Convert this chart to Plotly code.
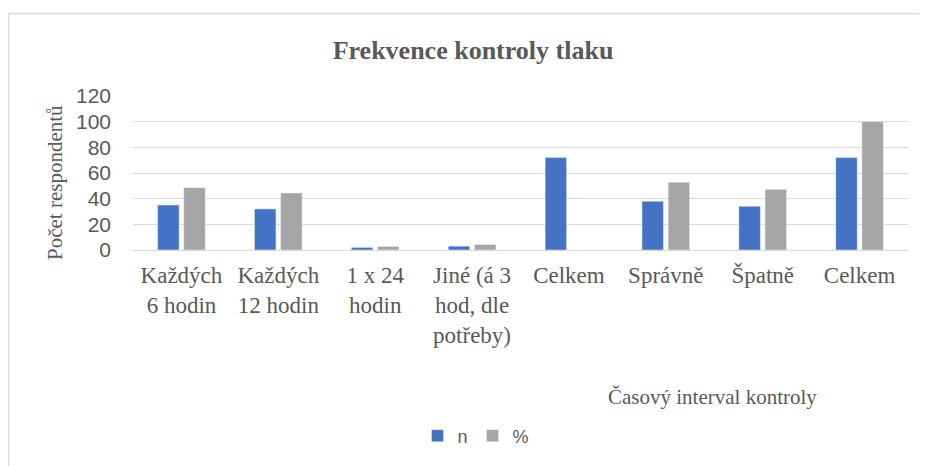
import plotly.graph_objects as go

categories = ["Každých<br>6 hodin", "Každých<br>12 hodin", "1 x 24<br>hodin",
              "Jiné (á 3<br>hod, dle<br>potřeby)", "Celkem", "Správně", "Špatně", "Celkem"]
x_pos = list(range(len(categories)))
n_values = [35, 32, 2, 3, 72, 38, 34, 72]
pct_values = [48.6, 44.4, 2.8, 4.2, None, 52.8, 47.2, 100]
y_ticks = [0, 20, 40, 60, 80, 100, 120]

TXT = "#595959"
SERIF = "Liberation Serif, Times New Roman, serif"
SANS = "Liberation Sans, Arial, sans-serif"

# the page body has an 8px margin, so the figure is laid out in page pixels minus 8
OFF = 8
W, H = 927 - OFF, 466 - OFF
L, R, T = 133 - OFF, 19, 96 - OFF
B = H - (250 - OFF)
pw, ph = W - L - R, H - T - B

def px_x(p):
    return (p - OFF - L) / pw

def px_y(p):
    return (H - B - (p - OFF)) / ph

fig = go.Figure()
fig.add_trace(go.Bar(x=x_pos, y=n_values, name="n", marker_color="#4472C4"))
fig.add_trace(go.Bar(x=x_pos, y=pct_values, name="%", marker_color="#A5A5A5"))

fig.update_layout(
    width=W, height=H,
    margin=dict(l=L, r=R, t=T, b=B, autoexpand=False),
    paper_bgcolor="white", plot_bgcolor="white",
    barmode="group", bargap=0.46, bargroupgap=0.18,
    title=dict(text="<b>Frekvence kontroly tlaku</b>", x=(473 - OFF) / W, xanchor="center",
               y=1 - (50 - OFF) / H, yanchor="middle",
               font=dict(family=SERIF, size=26, color=TXT)),
    showlegend=True,
    legend=dict(orientation="h", x=px_x(476), xanchor="center", y=px_y(436), yanchor="middle",
                font=dict(family=SANS, size=18, color=TXT), itemwidth=30,
                traceorder="normal"),
    xaxis=dict(tickmode="array", tickvals=x_pos, ticktext=categories,
               range=[-0.5, len(categories) - 0.5],
               showgrid=False, zeroline=False, showline=False, ticks="",
               tickfont=dict(family=SERIF, size=23, color=TXT), tickangle=0,
               ticklabelstandoff=9),
    yaxis=dict(range=[0, 120], tickvals=y_ticks, showgrid=True, gridcolor="#d9d9d9", gridwidth=1,
               zeroline=True, zerolinecolor="#d9d9d9", zerolinewidth=1, showline=False, ticks="",
               tickfont=dict(family=SANS, size=21, color=TXT), ticklabelstandoff=21),
    annotations=[
        dict(text="Počet respondentů", xref="paper", yref="paper", x=px_x(55), y=px_y(183),
             xanchor="center", yanchor="middle", textangle=-90, showarrow=False,
             font=dict(family=SERIF, size=21, color=TXT)),
        dict(text="Časový interval kontroly", xref="paper", yref="paper", x=px_x(712), y=px_y(397),
             xanchor="center", yanchor="middle", showarrow=False,
             font=dict(family=SERIF, size=21, color=TXT)),
    ],
    shapes=[
        dict(type="line", xref="paper", yref="paper",
             x0=px_x(8.5), x1=px_x(927), y0=px_y(13.5), y1=px_y(13.5),
             line=dict(color="#d9d9d9", width=1.5), layer="below"),
        dict(type="line", xref="paper", yref="paper",
             x0=px_x(8.5), x1=px_x(8.5), y0=px_y(13.5), y1=px_y(466),
             line=dict(color="#d9d9d9", width=1.5), layer="below"),
    ],
)

fig.write_html("out.html")
